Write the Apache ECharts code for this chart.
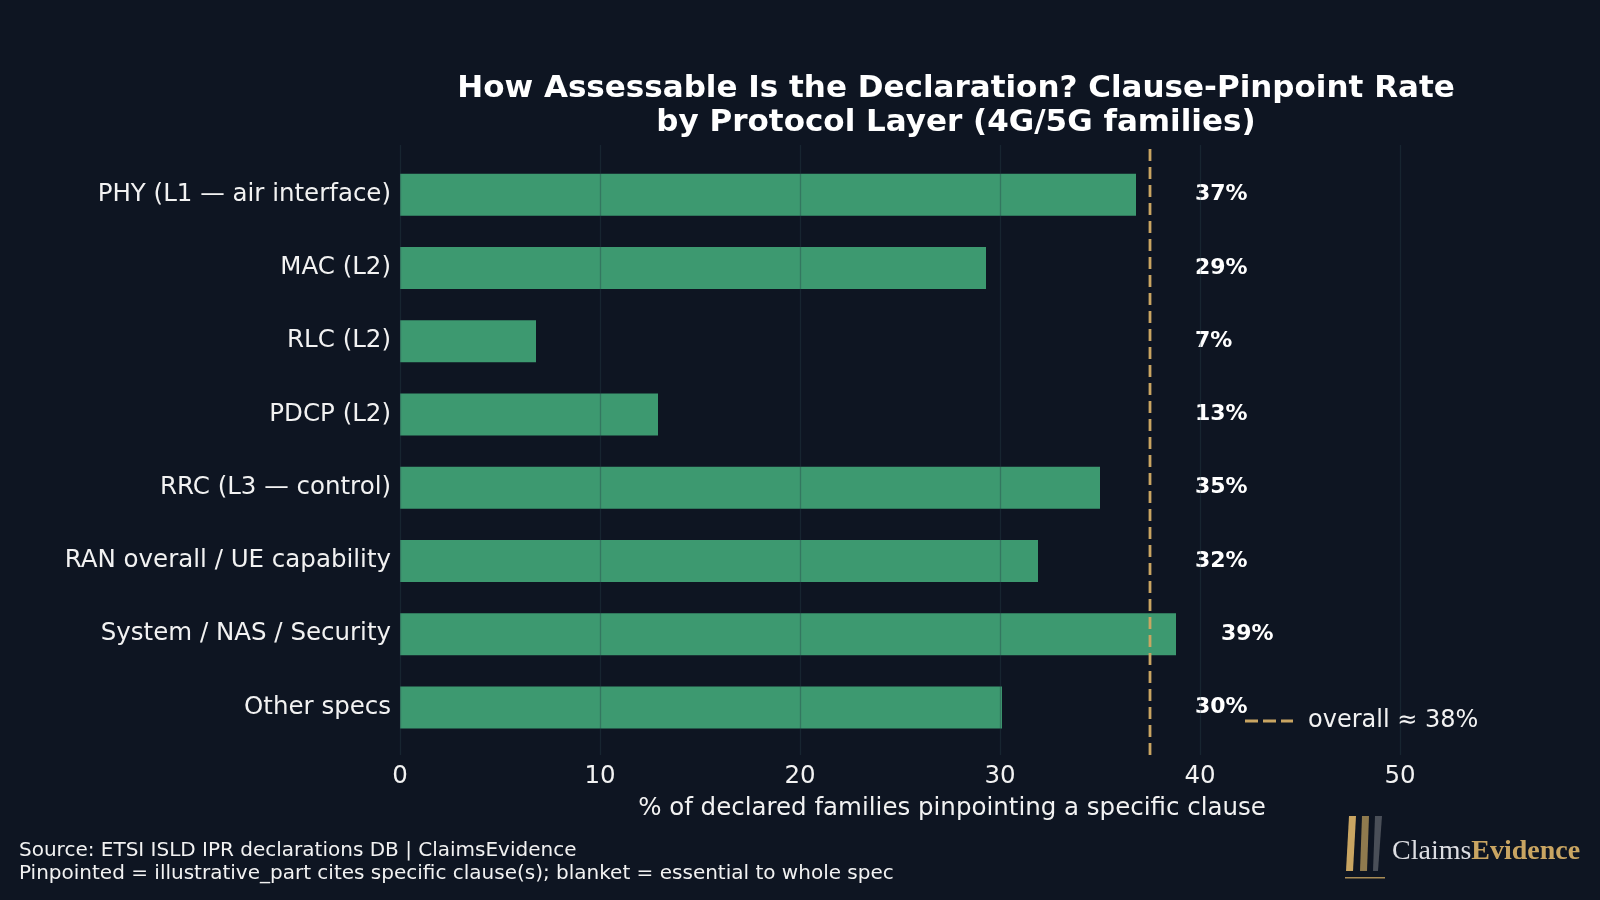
<!DOCTYPE html>
<html>
<head>
<meta charset="utf-8">
<script src="https://cdn.jsdelivr.net/npm/echarts@6/dist/echarts.min.js"></script>
<style>
  html, body { margin: 0; padding: 0; background: #0e1522; }
  #chart { width: 1600px; height: 900px; }
</style>
</head>
<body>
<div id="chart"></div>
<script>
const layers = ['PHY (L1 — air interface)', 'MAC (L2)', 'RLC (L2)', 'PDCP (L2)',
  'RRC (L3 — control)', 'RAN overall / UE capability', 'System / NAS / Security', 'Other specs']
const pinpointRate = [36.8, 29.3, 6.8, 12.9, 35.0, 31.9, 38.8, 30.1]
const overallRate = 37.5
const xTicks = [0, 10, 20, 30, 40, 50]

const bg = '#0e1522'
const green = '#3d9970'
const gold = '#c9a562'
const textColor = '#f2f2f2'
const font = 'DejaVu Sans'

const chart = echarts.init(document.getElementById('chart'))

const xMin = xTicks[0]
const xMax = 55.2

chart.setOption({
  backgroundColor: bg,
  animation: false,
  title: {
    text: 'How Assessable Is the Declaration? Clause-Pinpoint Rate\nby Protocol Layer (4G/5G families)',
    left: 951,
    textAlign: 'center',
    top: 67,
    textStyle: { color: '#ffffff', fontFamily: font, fontWeight: 'bold', fontSize: 31, lineHeight: 34 }
  },
  legend: {
    data: [{ name: 'overall ≈ 38%', icon: 'path://M0 0H13V3H0Z M18 0H31V3H18Z M36 0H48V3H36Z' }],
    left: 1240,
    top: 704,
    itemWidth: 48,
    itemHeight: 3,
    itemStyle: { color: gold },
    textStyle: { color: textColor, fontFamily: font, fontSize: 24, padding: [0, 0, 0, 10] }
  },
  grid: [
    { left: 400, right: 96, top: 158, bottom: 156 },
    { left: 400, right: 96, top: 145, bottom: 145 }
  ],
  xAxis: [
    { gridIndex: 0, type: 'value', min: xMin, max: xMax, show: false },
    {
      gridIndex: 1, type: 'value', min: xMin, max: xMax, interval: 10, z: 3,
      name: '% of declared families pinpointing a specific clause',
      nameLocation: 'middle', nameGap: 41,
      nameTextStyle: { color: textColor, fontFamily: font, fontSize: 24.5 },
      axisLine: { show: false }, axisTick: { show: false },
      axisLabel: { color: textColor, fontFamily: font, fontSize: 24.5, margin: 9, showMaxLabel: false },
      splitLine: { show: true, showMaxLine: false, lineStyle: { color: 'rgba(40,62,72,0.38)', width: 1.3 } }
    }
  ],
  yAxis: [
    {
      gridIndex: 0, type: 'category', data: layers, inverse: true,
      axisLine: { show: false }, axisTick: { show: false },
      axisLabel: { color: textColor, fontFamily: font, fontSize: 24.5, margin: 9, padding: [3, 0, 0, 0] }
    },
    { gridIndex: 1, type: 'value', min: 0, max: 1, show: false }
  ],
  series: [
    {
      type: 'bar', xAxisIndex: 0, yAxisIndex: 0,
      data: pinpointRate, barWidth: 42,
      itemStyle: { color: green }, z: 2
    },
    {
      type: 'scatter', xAxisIndex: 0, yAxisIndex: 0, symbolSize: 0, silent: true,
      itemStyle: { opacity: 1 },
      data: pinpointRate.map((v, i) => [Math.max(v, overallRate) + 2.25, i, v]),
      label: {
        show: true, position: 'right', distance: 0,
        formatter: p => Math.round(p.value[2]) + '%',
        color: '#ffffff', fontFamily: font, fontWeight: 'bold', fontSize: 22
      }
    },
    {
      name: 'overall ≈ 38%', type: 'line', xAxisIndex: 1, yAxisIndex: 1,
      data: [[overallRate, 0], [overallRate, 1]], symbol: 'none', z: 4,
      itemStyle: { color: gold },
      lineStyle: { color: gold, width: 2.8, type: [12, 6] }
    }
  ],
  graphic: [
    {
      type: 'text', left: 19, top: 840,
      style: {
        text: 'Source: ETSI ISLD IPR declarations DB | ClaimsEvidence\nPinpointed = illustrative_part cites specific clause(s); blanket = essential to whole spec',
        fill: textColor, font: '20px "DejaVu Sans"', lineHeight: 22.5
      }
    },
    { type: 'polygon', shape: { points: [[1349, 816], [1356, 816], [1353, 871], [1346, 871]] }, style: { fill: '#c9a562' } },
    { type: 'polygon', shape: { points: [[1362, 816], [1369, 816], [1367, 871], [1360, 871]] }, style: { fill: '#8f7a4e' } },
    { type: 'polygon', shape: { points: [[1375, 816], [1382, 816], [1378, 871], [1373, 871]] }, style: { fill: '#4a4f58' } },
    { type: 'rect', shape: { x: 1345, y: 877, width: 40, height: 1.5 }, style: { fill: '#a88c55' } },
    {
      type: 'text', left: 1392, top: 838,
      style: {
        text: '{a|Claims}{b|Evidence}',
        rich: {
          a: { fill: '#dcdde2', font: '28px "Liberation Serif"' },
          b: { fill: gold, font: 'bold 28px "Liberation Serif"' }
        }
      }
    }
  ]
})
</script>
</body>
</html>
